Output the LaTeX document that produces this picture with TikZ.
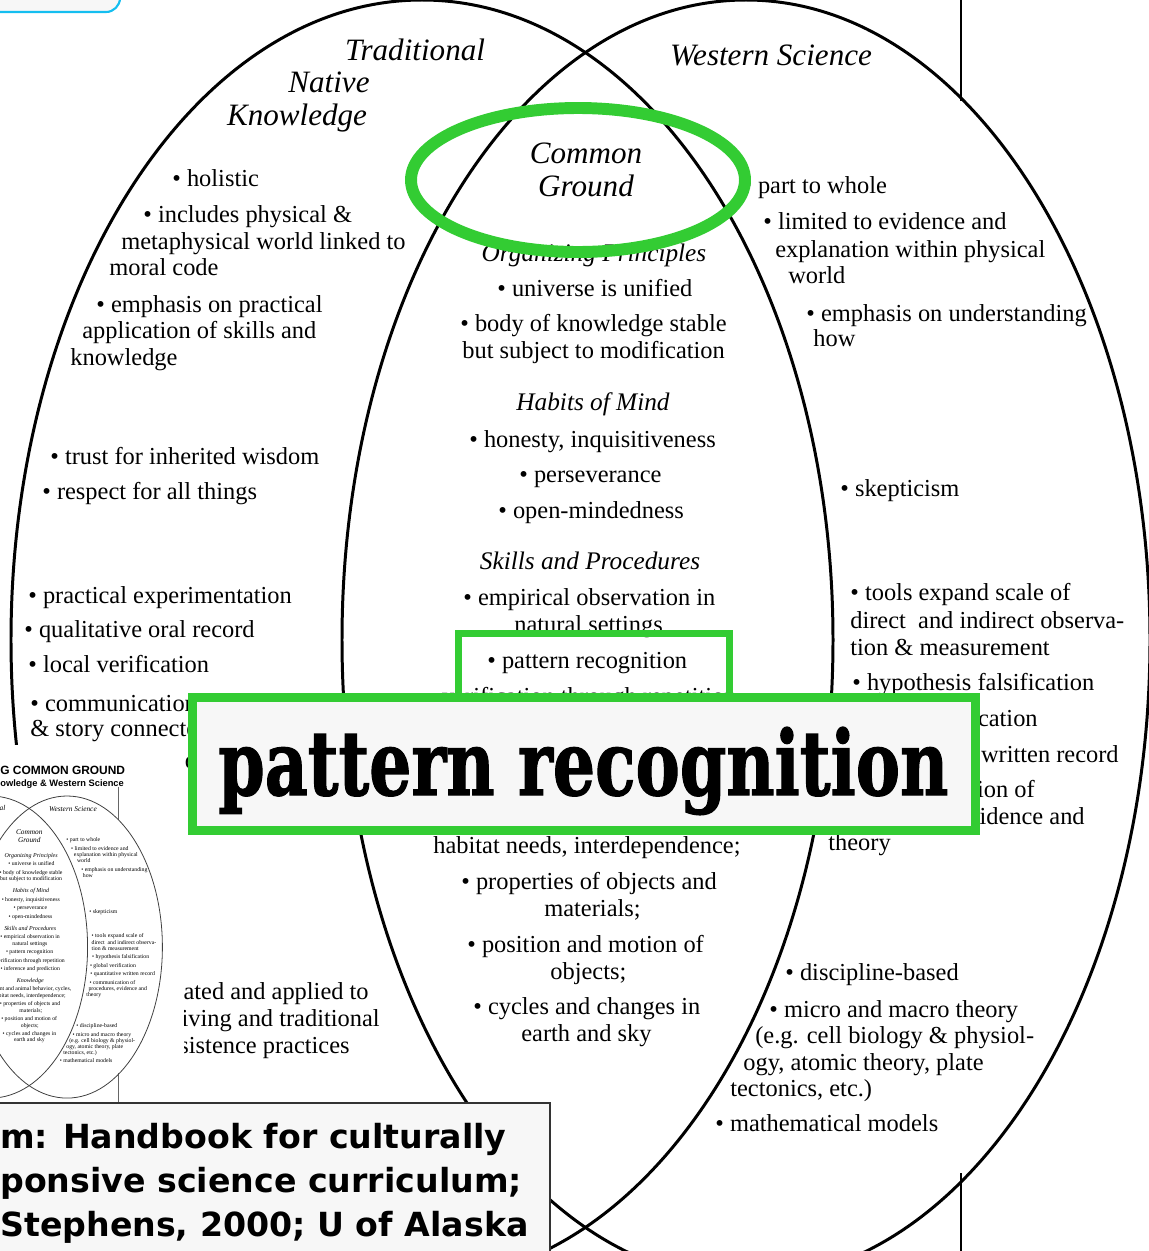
\documentclass[tikz,border=0pt]{standalone}
\usepackage{fontspec}
\usepackage{graphicx}
\setmainfont{Liberation Serif}
\newfontfamily\bannerfont[BoldFeatures={FakeBold=1.5}]{DejaVu Serif}
\newfontfamily\srcfont{DejaVu Sans}
\newfontfamily\headfont{Liberation Sans}
\usetikzlibrary{positioning}

\definecolor{markgreen}{RGB}{51,204,51}
\definecolor{panelgray}{RGB}{247,247,247}
\definecolor{tabcyan}{RGB}{20,190,240}

\tikzset{
    vennline/.style = {line width=1.7pt},
    pageline/.style = {line width=0.6pt},
    txt/.style = {inner sep=0pt, anchor=base west, font=\fontsize{13.9}{15}\selectfont},
    txtc/.style = {txt, anchor=base},
    txte/.style = {txt, anchor=base east},
    subhd/.style = {inner sep=0pt, anchor=base, font=\fontsize{14.4}{16}\selectfont\itshape},
    ttl/.style = {inner sep=0pt, anchor=base, font=\fontsize{17.7}{20}\selectfont\itshape},
    src/.style = {inner sep=0pt, anchor=base west, font=\srcfont\bfseries\fontsize{18.9}{22}\selectfont},
    insethd/.style = {inner sep=0pt, anchor=base west}
}

% the scanned figure: two ellipses and their lists
\newcommand\venncontent{%
    \draw[pageline] (961,-40) -- (961,101);
    \draw[pageline] (961,1173) -- (961,1320);
    \draw[vennline] (422,640) ellipse [x radius=411, y radius=640];
    \draw[vennline] (746,640) ellipse [x radius=404, y radius=640];

    \node[ttl] (trad) at (415,60) {Traditional};
    \node[ttl] (native) at (329,92) {Native};
    \node[ttl] (know) at (297,125) {Knowledge};
    \node[ttl] (west) at (771,65) {Western Science};
    \node[ttl] (common) at (586,163) {Common};
    \node[ttl] (ground) at (586,196) {Ground};

    % traditional side
    \node[txt] (t1) at (172,186) {• holistic};
    \node[txt] (t2) at (143,222) {• includes physical \&};
    \node[txt] (t3) at (121,249) {metaphysical world linked to};
    \node[txt] (t4) at (109,275) {moral code};
    \node[txt] (t5) at (96,312) {• emphasis on practical};
    \node[txt] (t6) at (82,338) {application of skills and};
    \node[txt] (t7) at (70,365) {knowledge};
    \node[txt] (t8) at (50,464) {• trust for inherited wisdom};
    \node[txt] (t9) at (42,499) {• respect for all things};
    \node[txt] (t10) at (28,603) {• practical experimentation};
    \node[txt] (t11) at (24,637) {• qualitative oral record};
    \node[txt] (t12) at (28,672) {• local verification};
    \node[txt] (t13) at (30,711) {• communication of metaphor};
    \node[txt] (t14) at (30,736) {\& story connected to life,};
    \node[txt] (t15) at (30,768) {values and proper behavior};
    \node[txte] (t16) at (369,999) {• integrated and applied to};
    \node[txte] (t17) at (380,1026) {daily living and traditional};
    \node[txte] (t18) at (350,1053) {subsistence practices};

    % common ground
    \node[subhd] (orgp) at (594,261) {Organizing Principles};
    \node[txt] (c1) at (497,296) {• universe is unified};
    \node[txt] (c2) at (460,331) {• body of knowledge stable};
    \node[txt] (c3) at (462,358) {but subject to modification};
    \node[subhd] (habits) at (593,410) {Habits of Mind};
    \node[txt] (c4) at (469,447) {• honesty, inquisitiveness};
    \node[txt] (c5) at (519,482) {• perseverance};
    \node[txt] (c6) at (498,518) {• open-mindedness};
    \node[subhd] (skills) at (590,569) {Skills and Procedures};
    \node[txt] (c7) at (463,605) {• empirical observation in};
    \node[txt] (c8) at (514,632) {natural settings};
    \node[txt] (c9) at (487,668) {• pattern recognition};
    \node[txtc] (c10) at (582,704) {• verification through repetition};
    \node[txt] (c13) at (433,853) {habitat needs, interdependence;};
    \node[txt] (c14) at (461,889) {• properties of objects and};
    \node[txt] (c15) at (544,916) {materials;};
    \node[txt] (c16) at (467,952) {• position and motion of};
    \node[txt] (c17) at (550,979) {objects;};
    \node[txt] (c18) at (473,1014) {• cycles and changes in};
    \node[txt] (c19) at (521,1041) {earth and sky};

    % western side
    \node[txt] (w1) at (743,193) {• part to whole};
    \node[txt] (w2) at (763,229) {• limited to evidence and};
    \node[txt] (w3) at (775,257) {explanation within physical};
    \node[txt] (w4) at (788,283) {world};
    \node[txt] (w5) at (806,321) {• emphasis on understanding};
    \node[txt] (w6) at (813,346) {how};
    \node[txt] (w7) at (840,496) {• skepticism};
    \node[txt] (w8) at (850,600) {• tools expand scale of};
    \node[txt] (w9) at (850,628) {direct\ \ and indirect observa-};
    \node[txt] (w10) at (850,655) {tion \& measurement};
    \node[txt] (w11) at (852,690) {• hypothesis falsification};
    \node[txte] (w12) at (1038,726) {• global verification};
    \node[txte] (w13) at (1119,762) {• quantitative written record};
    \node[txte] (w14) at (1035,797) {• communication of};
    \node[txte] (w15) at (1085,824) {procedures, evidence and};
    \node[txt] (w16) at (828,850) {theory};
    \node[txt] (w17) at (785,980) {• discipline-based};
    \node[txt] (w18) at (769,1017) {• micro and macro theory};
    \node[txt] (w19) at (755,1043) {(e.g. cell biology \& physiol-};
    \node[txt] (w20) at (743,1070) {ogy, atomic theory, plate};
    \node[txt] (w21) at (730,1096) {tectonics, etc.)};
    \node[txt] (w22) at (715,1131) {• mathematical models};
}

% lines that only the small copy shows
\newcommand\vennhidden{%
    \node[txtc] (c11) at (590,739) {• inference and prediction};
    \node[subhd] (knowl) at (590,790) {Knowledge};
    \node[txtc] (c12) at (590,826) {• plant and animal behavior, cycles,};
}

\begin{document}
\begin{tikzpicture}[x=0.02cm, y=-0.02cm]
    \useasboundingbox (0,0) rectangle (1149,1251);
    \clip (0,0) rectangle (1149,1251);

    \venncontent

    % tab in the corner
    \draw[tabcyan, line width=1.2pt, fill=panelgray, rounded corners=8pt] (-40,-40) rectangle (120,12);

    % green marks
    \draw[markgreen, line width=6.8pt] (578,180) ellipse [x radius=167, y radius=72];
    \draw[markgreen, line width=4pt] (458.5,633.5) rectangle (729.5,720);

    % small copy of the whole page
    \begin{scope}
        \clip (0,745) rectangle (184,1103);
        \fill[white] (0,745) rectangle (184,1103);
        \begin{scope}[shift={(-109,796)}, scale=0.236, transform shape,
            vennline/.style={line width=0.45pt, draw=black!75},
            pageline/.style={line width=0.3pt, draw=black!60}]
            \venncontent
            \vennhidden
        \end{scope}
        \node[insethd, font=\headfont\bfseries\fontsize{6.8}{7}\selectfont] (ihead1) at (0,774) {G COMMON GROUND};
        \node[insethd, font=\headfont\bfseries\fontsize{5.3}{6}\selectfont] (ihead2) at (0,786) {owledge \& Western Science};
    \end{scope}

    % banner
    \draw[markgreen, line width=5.1pt, fill=panelgray] (192.5,697.5) rectangle (975.5,830.5);
    \node[anchor=base west, inner sep=0pt] (bigword) at (218,795)
        {\resizebox{14.6cm}{1.36cm}{\bannerfont\bfseries pattern recognition}};

    % source note
    \draw[black!80, line width=1pt, fill=panelgray] (-10,1103) rectangle (550,1280);
    \node[src] (src1) at (0,1148) {m:\hspace{0.45em}Handbook for culturally};
    \node[src] (src2) at (0,1192) {ponsive science curriculum;};
    \node[src] (src3) at (0,1236) {Stephens, 2000; U of Alaska};
\end{tikzpicture}
\end{document}
